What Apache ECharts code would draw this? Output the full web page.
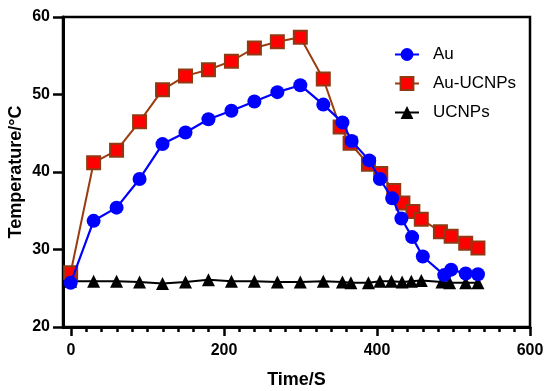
<!DOCTYPE html>
<html>
<head>
<meta charset="utf-8">
<script src="https://cdn.jsdelivr.net/npm/echarts@6/dist/echarts.min.js"></script>
<style>html,body{margin:0;padding:0;background:#fff}#c{width:550px;height:391px}</style>
</head>
<body>
<div id="c"></div>
<script>
// ---- data ----
var auTime = [0, 30, 60, 90, 120, 150, 180, 210, 240, 270, 300, 330, 355, 367, 390, 404, 420, 432, 446, 460, 488, 497, 516, 532];
var auTemp = [25.7, 33.7, 35.4, 39.1, 43.6, 45.1, 46.8, 47.9, 49.1, 50.3, 51.2, 48.7, 46.4, 44.0, 41.5, 39.1, 36.6, 34.0, 31.6, 29.1, 26.7, 27.4, 26.9, 26.8];
var auUcnpTime = [0, 30, 60, 90, 120, 150, 180, 210, 240, 270, 300, 330, 352, 365, 389, 405, 422, 434, 447, 458, 483, 497, 516, 532];
var auUcnpTemp = [27.0, 41.2, 42.8, 46.5, 50.6, 52.4, 53.2, 54.3, 56.0, 56.8, 57.4, 52.0, 45.8, 43.7, 41.0, 39.8, 37.6, 36.0, 34.9, 33.9, 32.3, 31.7, 30.8, 30.2];
var ucnpTime = [0, 30, 60, 90, 120, 150, 180, 210, 240, 270, 300, 330, 355, 366, 389, 404, 419, 433, 445, 458, 485, 495, 516, 532];
var ucnpTemp = [25.9, 25.9, 25.9, 25.8, 25.6, 25.8, 26.1, 25.9, 25.9, 25.8, 25.8, 25.9, 25.8, 25.7, 25.7, 25.9, 25.9, 25.8, 25.9, 26.0, 25.8, 25.7, 25.7, 25.7];
var seriesNames = ['Au', 'Au-UCNPs', 'UCNPs'];
var xTickValues = [0, 200, 400, 600];
var yTickValues = [20, 30, 40, 50, 60];

function pairs(xs, ys) { return xs.map(function (x, i) { return [x, ys[i]]; }); }

var FONT = 'Arial, "Liberation Sans", sans-serif';
var chart = echarts.init(document.getElementById('c'), null, { renderer: 'canvas' });
chart.setOption({
  animation: false,
  backgroundColor: '#fff',
  grid: [
    { left: 63, right: 20, top: 17, bottom: 64, containLabel: false, outerBoundsMode: 'none', show: true, borderColor: '#000', borderWidth: 2.5, backgroundColor: 'transparent' },
    { left: 71, right: 20, top: 17, bottom: 64, containLabel: false, outerBoundsMode: 'none' }
  ],
  xAxis: [
    {
      gridIndex: 0, type: 'value', min: -10, max: 600,
      axisLine: { show: true, onZero: false, lineStyle: { color: '#000', width: 3 } },
      axisTick: { show: false }, axisLabel: { show: false }, splitLine: { show: false },
      name: 'Time/S', nameLocation: 'middle', nameGap: 44, nameMoveOverlap: false,
      nameTextStyle: { fontFamily: FONT, fontWeight: 'bold', fontSize: 18, color: '#000' }
    },
    {
      gridIndex: 1, type: 'value', min: xTickValues[0], max: xTickValues[xTickValues.length - 1], interval: 200,
      axisLine: { show: false, onZero: false },
      axisTick: { show: true, length: 9, lineStyle: { color: '#000', width: 2.5 } },
      minorTick: { show: true, splitNumber: 10, length: 5, lineStyle: { color: '#000', width: 2.5 } },
      axisLabel: { show: true, margin: 16, fontFamily: FONT, fontWeight: 'bold', fontSize: 16, color: '#000' },
      splitLine: { show: false }
    }
  ],
  yAxis: [
    {
      gridIndex: 0, type: 'value', min: yTickValues[0], max: yTickValues[yTickValues.length - 1], interval: 10,
      axisLine: { show: true, onZero: false, lineStyle: { color: '#000', width: 3 } },
      axisTick: { show: true, length: 10, lineStyle: { color: '#000', width: 2.5 } },
      axisLabel: { margin: 13, fontFamily: FONT, fontWeight: 'bold', fontSize: 16, color: '#000' },
      splitLine: { show: false },
      name: 'Temperature/°C', nameLocation: 'middle', nameGap: 38, nameRotate: 90, nameMoveOverlap: false,
      nameTextStyle: { fontFamily: FONT, fontWeight: 'bold', fontSize: 18, color: '#000' }
    },
    {
      gridIndex: 1, type: 'value', min: 20, max: 60, show: false
    }
  ],
  legend: {
    data: seriesNames,
    orient: 'vertical', left: 389, top: 41,
    itemWidth: 24, itemHeight: 16, itemGap: 12,
    textStyle: { fontFamily: FONT, fontSize: 17, color: '#000', padding: [0, 0, 0, 9] }
  },
  series: [
    {
      name: 'Au', type: 'line', xAxisIndex: 0, yAxisIndex: 0, z: 4,
      data: pairs(auTime, auTemp),
      symbol: 'circle', symbolSize: 14,
      lineStyle: { color: '#0000ff', width: 2.2 },
      itemStyle: { color: '#0000ff' }
    },
    {
      name: 'Au-UCNPs', type: 'line', xAxisIndex: 0, yAxisIndex: 0, z: 3,
      data: pairs(auUcnpTime, auUcnpTemp),
      symbol: 'rect', symbolSize: 13,
      lineStyle: { color: '#9a3c10', width: 2 },
      itemStyle: { color: '#ff0000', borderColor: '#8f3a12', borderWidth: 2 }
    },
    {
      name: 'UCNPs', type: 'line', xAxisIndex: 0, yAxisIndex: 0, z: 2,
      data: pairs(ucnpTime, ucnpTemp),
      symbol: 'triangle', symbolSize: 13,
      lineStyle: { color: '#000', width: 2 },
      itemStyle: { color: '#000' }
    }
  ]
});
</script>
</body>
</html>
